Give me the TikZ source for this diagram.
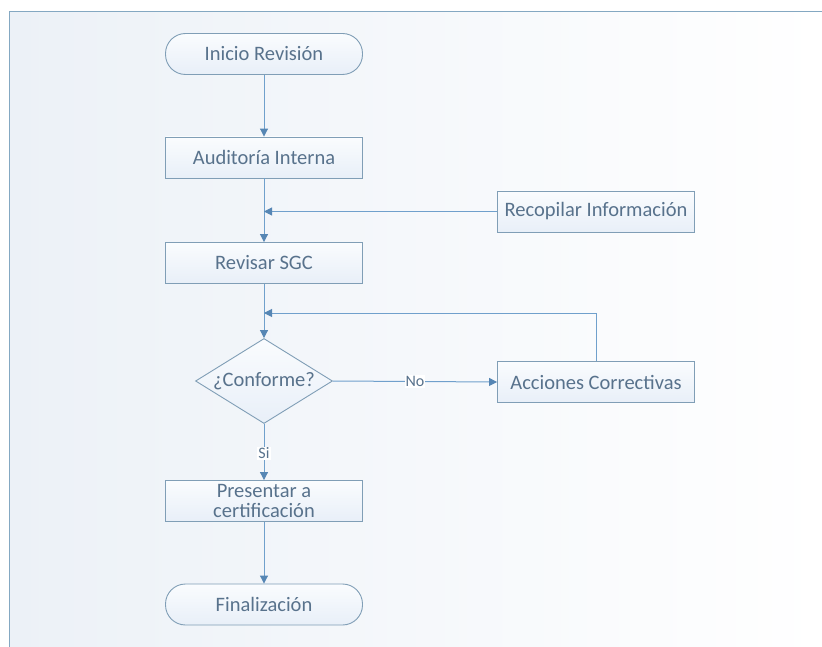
\documentclass[tikz,border=0pt]{standalone}
\usepackage{fontspec}
\setmainfont{Carlito}
\usetikzlibrary{shapes.geometric,arrows.meta}
\definecolor{edgecol}{RGB}{128,158,182}
\definecolor{linecol}{RGB}{112,160,204}
\definecolor{tipcol}{RGB}{86,134,180}
\definecolor{txtcol}{RGB}{88,114,140}
\definecolor{framecol}{RGB}{132,168,194}
\definecolor{bgleft}{RGB}{236,241,247}
\definecolor{boxtop}{RGB}{250,252,254}
\definecolor{boxbot}{RGB}{232,239,248}
\tikzset{
  base/.style={draw=edgecol, line width=0.9pt, top color=boxtop, bottom color=boxbot,
    text=txtcol, font=\fontsize{20.5}{20}\selectfont, minimum width=197pt, minimum height=41pt,
    inner sep=1pt, align=center},
  stepbox/.style={base, rectangle},
  termbox/.style={base, rounded corners=20pt},
  decision/.style={base, diamond, aspect=1.6, minimum width=137pt, minimum height=85pt, inner sep=0pt},
  flow/.style={draw=linecol, line width=1pt, -{Triangle[width=8pt,length=8pt,fill=tipcol,color=tipcol]}},
  lbl/.style={text=txtcol, font=\fontsize{16}{17}\selectfont, inner sep=1pt}
}
\begin{document}
\begin{tikzpicture}[x=1pt,y=-1pt]
  \useasboundingbox (0,0) rectangle (822,647);
  % framed canvas with a soft background
  \fill[left color=bgleft, right color=white] (9,12) rectangle (822,647);
  \draw[framecol, line width=1pt] (9,647) -- (9,12) -- (822,12);

  \node[termbox] (inicio) at (264,54) {Inicio Revisión};
  \node[stepbox] (audit) at (264,157.5) {Auditoría Interna};
  \node[stepbox] (recop) at (596,211.5) {Recopilar Información};
  \node[stepbox] (revisar) at (264,263) {Revisar SGC};
  \node[decision] (conf) at (264,381) {¿Conforme?};
  \node[stepbox] (acc) at (596,382) {Acciones Correctivas};
  \node[stepbox] (pres) at (264,501) {Presentar a\\certificación};
  \node[termbox] (fin) at (264,604.5) {Finalización};

  \coordinate (jrec) at (264,211.5);
  \coordinate (jacc) at (264,313);
  \coordinate (accup) at (596,313);

  \draw[flow] (inicio) -- (audit);
  \draw[flow] (audit) -- (revisar);
  \draw[flow] (recop) -- (jrec);
  \draw[flow] (revisar) -- (conf);
  \draw[flow] (acc.north) -- (accup) -- (jacc);
  \draw[flow] (conf.east) -- node[lbl, fill=white] {No} (acc.west);
  \draw[flow] (conf.south) -- node[lbl, fill=white, pos=0.52] {Si} (pres.north);
  \draw[flow] (pres) -- (fin);
\end{tikzpicture}
\end{document}
